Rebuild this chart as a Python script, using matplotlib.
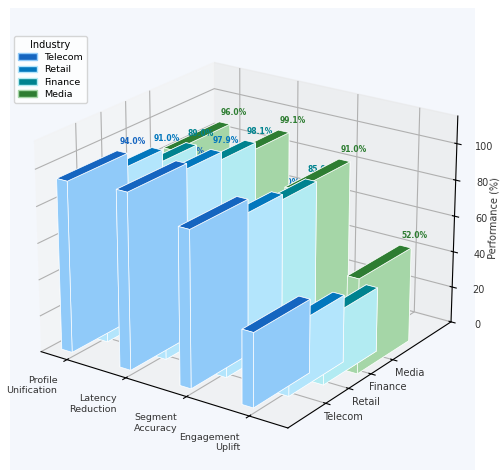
import matplotlib
matplotlib.use("Agg")
import matplotlib.pyplot as plt
from matplotlib.patches import Patch

metrics = ["Profile\nUnification", "Latency\nReduction", "Segment\nAccuracy", "Engagement\nUplift"]
industries = ["Telecom", "Retail", "Finance", "Media"]
telecom = [94.0, 96.5, 85.5, 40.5]
retail = [91.0, 97.9, 83.0, 37.0]
finance = [89.0, 98.1, 85.0, 35.5]
media = [96.0, 99.1, 91.0, 52.0]
series = [telecom, retail, finance, media]
top_colors = ["#1565C0", "#0277BD", "#00838F", "#2E7D32"]
side_colors = ["#90CAF9", "#B3E5FC", "#B2EBF2", "#A5D6A7"]

fig = plt.figure(figsize=(5, 4.7), dpi=100, facecolor="white")
ax = fig.add_axes([10 / 500, -3 / 470, 465 / 500, 465 / 470], projection="3d", facecolor="#F4F7FC")

bar_dx = 0.18
bar_dy = 2.38
for j, values in enumerate(series):
    for i, h in enumerate(values):
        x0 = i + (j - 1.5) * bar_dx
        y0 = j - bar_dy / 2
        # face order: bottom, top, front, back, left, right
        faces = [side_colors[j], top_colors[j]] + [side_colors[j]] * 4
        ax.bar3d(x0, y0, 0, bar_dx, bar_dy, h, color=faces, shade=False,
                 edgecolor="white", linewidth=0.5)
        ax.text(x0 + bar_dx / 2, y0 + bar_dy + 0.42, h + 3.2, f"{h:.1f}%", ha="center",
                va="center", fontsize=5.5, fontweight="bold", color=top_colors[j], zorder=3)

ax.set_xlim(-0.45, 3.6)
ax.set_ylim(-1.6, 5.8)
ax.set_zlim(0, 115)
ax.set_xticks(range(len(metrics)))
ax.set_xticklabels(metrics, fontsize=6.8, ha="right", color="#333333")
ax.set_yticks(range(len(industries)))
ax.set_yticklabels(industries, fontsize=7, va="bottom", color="#333333")
ax.set_zticks(range(0, 101, 20))
ax.tick_params(axis="x", pad=1)
ax.tick_params(axis="z", labelsize=7, labelcolor="#333333")
ax.set_zlabel("Performance (%)", fontsize=7, color="#333333", labelpad=-4)
ax.view_init(elev=22, azim=-55)

handles = [Patch(facecolor=c, edgecolor=s, label=n) for c, s, n in zip(top_colors, side_colors, industries)]
ax.legend(handles=handles, title="Industry", loc="upper left", fontsize=6.8, title_fontsize=7,
          bbox_to_anchor=(0.009, 0.94), borderaxespad=0, labelspacing=0.35)
fig.savefig("out.png", dpi=100)
